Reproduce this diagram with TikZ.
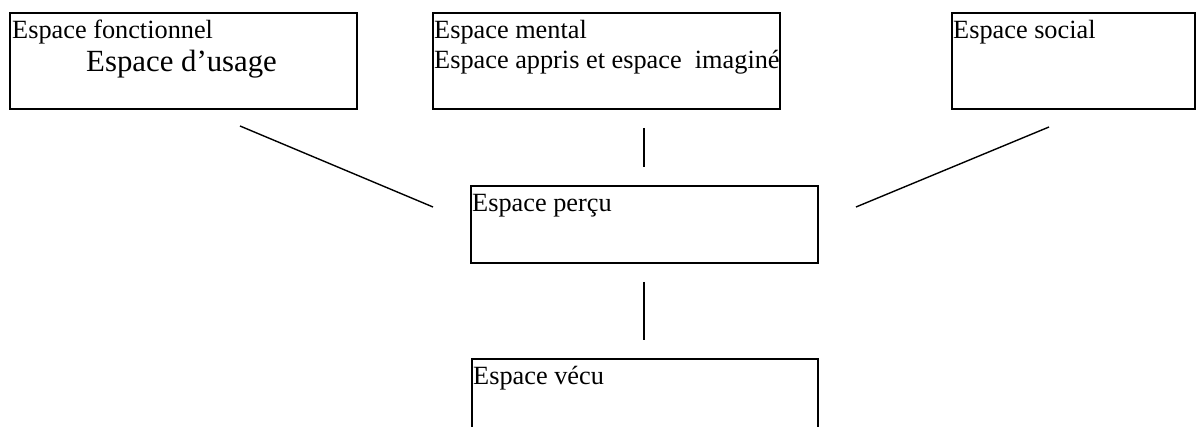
\documentclass[tikz,border=0pt]{standalone}
\usepackage{fontspec}
\setmainfont{Liberation Serif}
\begin{document}
\begin{tikzpicture}[x=1pt,y=-1pt,
  box/.style={draw=black,line width=1.6pt,inner sep=0pt},
  lbl/.style={anchor=base west,inner sep=0pt,font=\fontsize{26.3}{30}\selectfont},
  big/.style={anchor=base west,inner sep=0pt,font=\fontsize{30.8}{34}\selectfont},
  conn/.style={draw=black,line width=1.4pt}]
\useasboundingbox (0,0) rectangle (1197,427);
\clip (0,0) rectangle (1197,427);
% boxes
\path (10,13) coordinate (b1a) (357,109) coordinate (b1b);
\draw[box] (b1a) rectangle (b1b);
\path (433,13) coordinate (b2a) (780,109) coordinate (b2b);
\draw[box] (b2a) rectangle (b2b);
\path (952,13) coordinate (b3a) (1195,109) coordinate (b3b);
\draw[box] (b3a) rectangle (b3b);
\path (471,186) coordinate (b4a) (818,263) coordinate (b4b);
\draw[box] (b4a) rectangle (b4b);
\path (472,359) coordinate (b5a) (818,440) coordinate (b5b);
\draw[box] (b5a) rectangle (b5b);
% texts
\node[lbl] (t1) at (12,39) {Espace fonctionnel};
\node[big] (t1b) at (86,72) {Espace d’usage};
\node[lbl] (t2) at (434,39) {Espace mental};
\node[lbl] (t2b) at (434,69) {Espace appris et espace\ \ imaginé};
\node[lbl] (t3) at (953,39) {Espace social};
\node[lbl] (t4) at (472,212) {Espace perçu};
\node[lbl] (t5) at (473,385) {Espace vécu};
% connectors
\coordinate (c1a) at (240,126);
\coordinate (c1b) at (433,207);
\coordinate (c2a) at (644,128);
\coordinate (c2b) at (644,167);
\coordinate (c3a) at (1049,127);
\coordinate (c3b) at (856,207);
\coordinate (c4a) at (644,282);
\coordinate (c4b) at (644,340);
\draw[conn] (c1a) -- (c1b);
\draw[conn] (c2a) -- (c2b);
\draw[conn] (c3a) -- (c3b);
\draw[conn] (c4a) -- (c4b);
\end{tikzpicture}
\end{document}
